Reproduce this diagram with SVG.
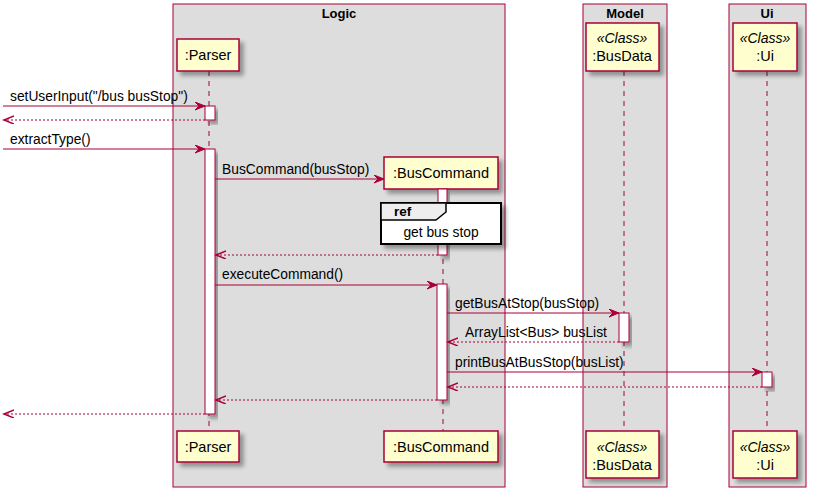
<svg xmlns="http://www.w3.org/2000/svg" width="815" height="497" viewBox="0 0 815 497">
<style>
text{font-family:"Liberation Sans",Arial,sans-serif;fill:#000}
.box{fill:#DDDDDD;stroke:#A80036;stroke-width:1}
.title{font-size:13px;font-weight:bold;text-anchor:middle}
.head{fill:#FEFECE;stroke:#A80036;stroke-width:1.5;filter:url(#sh)}
.name{font-size:14.5px;text-anchor:middle}
.stereo{font-size:14px;font-style:italic;text-anchor:middle}
.life{stroke:#A80036;stroke-width:1;stroke-dasharray:5,5;fill:none}
.act{fill:#FFFFFF;stroke:#A80036;stroke-width:1;filter:url(#sh)}
.msg{stroke:#A80036;stroke-width:1;fill:none}
.ret{stroke:#A80036;stroke-width:1;stroke-dasharray:2,2;fill:none}
.ml{font-size:13.8px}
</style>
<defs>
<filter id="sh" x="-20%" y="-20%" width="150%" height="150%">
<feGaussianBlur in="SourceAlpha" stdDeviation="2"/>
<feOffset dx="4" dy="4" result="o"/>
<feComponentTransfer><feFuncA type="linear" slope="0.35"/></feComponentTransfer>
<feMerge><feMergeNode/><feMergeNode in="SourceGraphic"/></feMerge>
</filter>
<marker id="ar" markerWidth="12" markerHeight="10" refX="10" refY="4" orient="auto" markerUnits="userSpaceOnUse">
<polygon points="0,0 10,4 0,8 4,4" fill="#A80036" stroke="#A80036" stroke-width="1"/>
</marker>
<marker id="ao" markerWidth="12" markerHeight="10" refX="10" refY="4" orient="auto" markerUnits="userSpaceOnUse">
<polyline points="0,0 10,4 0,8" fill="none" stroke="#A80036" stroke-width="1.5"/>
</marker>
</defs>
<rect width="815" height="497" fill="#FFFFFF"/>

<g id="box-logic">
<rect class="box" x="173" y="4" width="332" height="483"/>
<text class="title" x="339" y="18">Logic</text>
</g>
<g id="box-model">
<rect class="box" x="583" y="4" width="84" height="483"/>
<text class="title" x="625" y="18">Model</text>
</g>
<g id="box-ui">
<rect class="box" x="729" y="4" width="77" height="483"/>
<text class="title" x="767" y="18">Ui</text>
</g>

<g id="lifelines">
<line class="life" x1="209" y1="71" x2="209" y2="431"/>
<line class="life" x1="443" y1="189" x2="443" y2="431"/>
<line class="life" x1="624" y1="71" x2="624" y2="431"/>
<line class="life" x1="767" y1="71" x2="767" y2="431"/>
</g>

<g id="parser">
<rect class="head" x="177" y="39" width="62" height="32"/>
<text class="name" x="208" y="60">:Parser</text>
<rect class="head" x="177" y="431" width="62" height="31"/>
<text class="name" x="208" y="452">:Parser</text>
<rect class="act" x="205" y="106" width="10" height="14"/>
<rect class="act" x="205" y="149" width="10" height="265"/>
</g>

<g id="buscommand">
<rect class="head" x="384" y="157" width="114" height="32"/>
<text class="name" x="441" y="178">:BusCommand</text>
<rect class="head" x="384" y="431" width="114" height="31"/>
<text class="name" x="441" y="452">:BusCommand</text>
<rect class="act" x="438" y="189" width="9" height="66"/>
<rect class="act" x="437" y="284" width="10" height="116"/>
</g>

<g id="busdata">
<rect class="head" x="586" y="23" width="73" height="48"/>
<text class="stereo" x="622" y="43">«Class»</text>
<text class="name" x="622" y="61">:BusData</text>
<rect class="head" x="586" y="431" width="73" height="47"/>
<text class="stereo" x="622" y="452">«Class»</text>
<text class="name" x="622" y="470">:BusData</text>
<rect class="act" x="619" y="313" width="10" height="29"/>
</g>

<g id="ui">
<rect class="head" x="733" y="23" width="64" height="48"/>
<text class="stereo" x="765" y="43">«Class»</text>
<text class="name" x="765" y="61">:Ui</text>
<rect class="head" x="733" y="431" width="64" height="47"/>
<text class="stereo" x="765" y="452">«Class»</text>
<text class="name" x="765" y="470">:Ui</text>
<rect class="act" x="762" y="372" width="10" height="15"/>
</g>

<g id="ref-get-bus-stop">
<rect x="381" y="203" width="120" height="41" fill="#FFFFFF" stroke="#000" stroke-width="2" filter="url(#sh)"/>
<polygon points="381,203 446,203 446,212 436,220 381,220" fill="#EEEEEE" stroke="#000" stroke-width="1.5"/>
<text x="394" y="216" font-size="13.5px" font-weight="bold">ref</text>
<text x="441" y="237" font-size="13.8px" text-anchor="middle">get bus stop</text>
</g>

<g id="connectors">
<line class="msg" x1="3" y1="106" x2="205" y2="106" marker-end="url(#ar)"/>
<text class="ml" x="10" y="101">setUserInput("/bus busStop")</text>
<line class="ret" x1="205" y1="120" x2="4" y2="120" marker-end="url(#ao)"/>
<line class="msg" x1="3" y1="149" x2="205" y2="149" marker-end="url(#ar)"/>
<text class="ml" x="10" y="144">extractType()</text>
<line class="msg" x1="215" y1="179" x2="384" y2="179" marker-end="url(#ar)"/>
<text class="ml" x="222" y="174">BusCommand(busStop)</text>
<line class="ret" x1="438" y1="255" x2="216" y2="255" marker-end="url(#ao)"/>
<line class="msg" x1="215" y1="285" x2="437" y2="285" marker-end="url(#ar)"/>
<text class="ml" x="222" y="279">executeCommand()</text>
<line class="msg" x1="447" y1="313" x2="619" y2="313" marker-end="url(#ar)"/>
<text class="ml" x="455" y="308">getBusAtStop(busStop)</text>
<line class="ret" x1="619" y1="342" x2="448" y2="342" marker-end="url(#ao)"/>
<text class="ml" x="465" y="337">ArrayList&lt;Bus&gt; busList</text>
<line class="msg" x1="447" y1="372" x2="762" y2="372" marker-end="url(#ar)"/>
<text class="ml" x="455" y="367">printBusAtBusStop(busList)</text>
<line class="ret" x1="762" y1="387" x2="448" y2="387" marker-end="url(#ao)"/>
<line class="ret" x1="437" y1="400" x2="216" y2="400" marker-end="url(#ao)"/>
<line class="ret" x1="205" y1="414" x2="4" y2="414" marker-end="url(#ao)"/>
</g>
</svg>
